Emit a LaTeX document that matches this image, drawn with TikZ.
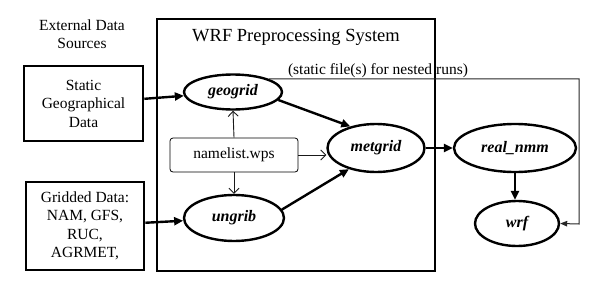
\documentclass[tikz,border=0pt]{standalone}
\usepackage{fontspec}
\setmainfont{Liberation Serif}
\usetikzlibrary{shapes.geometric,arrows.meta}
\begin{document}
\begin{tikzpicture}[x=1pt,y=-1pt,
  txt/.style={font=\fontsize{15.5}{18.5}\selectfont, align=center, inner sep=0pt},
  srcbox/.style={draw, line width=2.6pt, inner sep=0pt, txt},
  prog/.style={draw, ellipse, line width=2.4pt, inner sep=0pt,
    font=\fontsize{16}{19}\selectfont\bfseries\itshape},
  flow/.style={line width=2.4pt, -{Triangle[length=9pt,width=8pt]}},
  ctl/.style={line width=0.9pt, black!90, -{Straight Barb[length=5pt,width=10pt]}},
  nest/.style={line width=1pt, black!85, -{Triangle[length=7pt,width=5.5pt]}}]
\useasboundingbox (0,0) rectangle (606,292);

% preprocessing system frame
\node[draw, line width=2.6pt, minimum width=278pt, minimum height=252pt, inner sep=0pt]
  (wps) at (296,145) {};
\node[font=\fontsize{18.5}{22}\selectfont, inner sep=0pt] (wpstitle) at (296,37) {WRF Preprocessing System};

% external sources
\node[txt] (extsrc) at (82,34) {External Data\\Sources};
\node[srcbox, minimum width=119pt, minimum height=75pt] (static) at (83.5,103.5)
  {Static\\Geographical\\Data};
\node[srcbox, minimum width=118pt, minimum height=88pt] (gridded) at (85,226)
  {Gridded Data:\\NAM, GFS,\\RUC,\\AGRMET,};

% programs
\node[prog, minimum width=98pt, minimum height=35pt] (geogrid) at (233,92) {geogrid};
\node[prog, minimum width=100pt, minimum height=46pt] (ungrib) at (234,218) {ungrib};
\node[prog, minimum width=97pt, minimum height=48pt] (metgrid) at (376,148) {metgrid};
\node[prog, minimum width=122pt, minimum height=48pt] (realnmm) at (515,148) {real\_nmm};
\node[prog, minimum width=84pt, minimum height=45pt] (wrf) at (517,223.5) {wrf};

% namelist
\node[draw, line width=0.8pt, rounded corners=3pt, minimum width=128pt, minimum height=34pt,
  inner sep=0pt, txt] (namelist) at (234,155) {namelist.wps};

% data flow
\draw[flow] (static) -- (geogrid);
\draw[flow] (gridded) -- (ungrib);
\draw[flow] (geogrid.-10) -- (metgrid.140);
\draw[flow] (ungrib.10) -- (metgrid.218);
\draw[flow] (metgrid.east) -- (realnmm.west);
\draw[flow] (realnmm.south) -- (realnmm.south |- wrf.north);

% namelist control
\draw[ctl] (namelist.north) -- (geogrid.south);
\draw[ctl] (namelist.south) -- (ungrib.north);
\draw[ctl] (namelist.east) -- (namelist.east -| metgrid.west);

% static files for nested runs
\coordinate (bend) at (579,224);
\draw[nest] (geogrid.20) -| (bend) -- (wrf.east);
\node[txt, anchor=south] (nestlbl) at (378,78) {(static file(s) for nested runs)};
\end{tikzpicture}
\end{document}
